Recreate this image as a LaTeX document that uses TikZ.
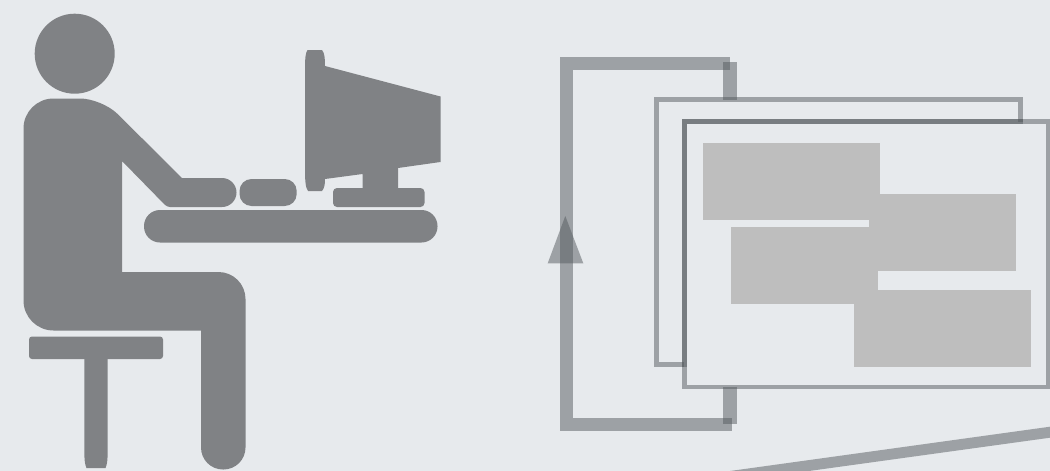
\documentclass[tikz,border=0pt]{standalone}
\usepackage{tikz}
\definecolor{PaperGray}{HTML}{E7EAED}
\definecolor{IconGray}{HTML}{808285}
\definecolor{LoopGray}{HTML}{555A5E}
\definecolor{BlockGray}{HTML}{BEBEBE}
\tikzset{
    icon/.style={fill=IconGray},
    loopbar/.style={draw=LoopGray, draw opacity=0.5, line width=13.3pt},
    frameline/.style={draw=LoopGray, draw opacity=0.5, line width=4.8pt},
    block/.style={fill=BlockGray}
}

\begin{document}
\begin{tikzpicture}[x=1pt, y=-1pt]
    \useasboundingbox (0,0) rectangle (1050,471);
    \clip (0,0) rectangle (1050,471);
    \fill[PaperGray] (0,0) rectangle (1050,471);

    % person at the desk
    \fill[icon] (74.7,53.7) circle (40pt);
    \fill[icon] (23.5,200) [rounded corners=30pt] -- (23.5,98.5) [rounded corners=22pt] -- (102,98.5) [sharp corners] -- (182,178)
        [rounded corners=14.5pt] -- (236.5,178) -- (236.5,207) [rounded corners=3pt] -- (167,207) [sharp corners] -- (122,161) -- (122,272)
        [rounded corners=27pt] -- (245.5,272) [rounded corners=22pt] -- (245.5,469.5) -- (201,469.5) [sharp corners] -- (201,330.5)
        [rounded corners=30pt] -- (23.5,330.5) -- cycle;

    % stool
    \fill[icon, rounded corners=3pt] (29,336.5) rectangle (163,359);
    \fill[icon] (84.3,350) -- (107.7,350) -- (107.7,450) .. controls (107.7,460) and (107,465) .. (105.5,468)
        -- (86.5,468) .. controls (85,465) and (84.3,460) .. (84.3,450) -- cycle;

    % desk and keyboard
    \fill[icon, rounded corners=16pt] (144,210) rectangle (437.5,242.5);
    \fill[icon, rounded corners=12pt] (239.5,179) rectangle (296.7,206);

    % monitor
    \fill[icon] (307.5,50) -- (322,50) .. controls (324.5,53) and (325,58) .. (325,66) -- (440.5,96.5) -- (440.5,162) -- (398,168) -- (398,188)
        -- (362.5,188) -- (362.5,174) -- (325,179) .. controls (325,184) and (324.5,188) .. (322,191) -- (308,191)
        .. controls (305.5,188) and (305,180) .. (305,170) -- (305,70) .. controls (305,58) and (305.5,53) .. (307.5,50) -- cycle;
    \fill[icon, rounded corners=4pt] (333,188) rectangle (424.5,207);

    % loop with its arrowhead
    \draw[loopbar] (730,63.4) -- (566.2,63.4) -- (566.2,424.4) -- (731.7,424.4);
    \fill[LoopGray, fill opacity=0.5] (565.3,216) -- (583.3,263.3) -- (547.7,263.3) -- cycle;
    \draw[frameline] (656.4,99.7) rectangle (1020.6,364.6);
    \fill[PaperGray] (684.4,121.7) rectangle (1048.4,386.9);
    \draw[loopbar] (730,62.3) -- (730,100);
    \draw[loopbar] (730,386.7) -- (730,424);
    \draw[frameline] (684.4,121.7) rectangle (1048.4,386.9);
    \draw[frameline] (684.4,367) -- (684.4,121.7) -- (1023,121.7);

    % blocks
    \fill[block] (703,142.7) rectangle (880,220);
    \fill[block] (869,194) rectangle (1016,270.7);
    \fill[block] (731,227) rectangle (878,304);
    \fill[block] (854,290) rectangle (1031,366.7);

    % base line
    \fill[LoopGray, fill opacity=0.5] (1050,426.7) -- (730,471) -- (809,471) -- (1050,437.7) -- cycle;
\end{tikzpicture}
\end{document}
